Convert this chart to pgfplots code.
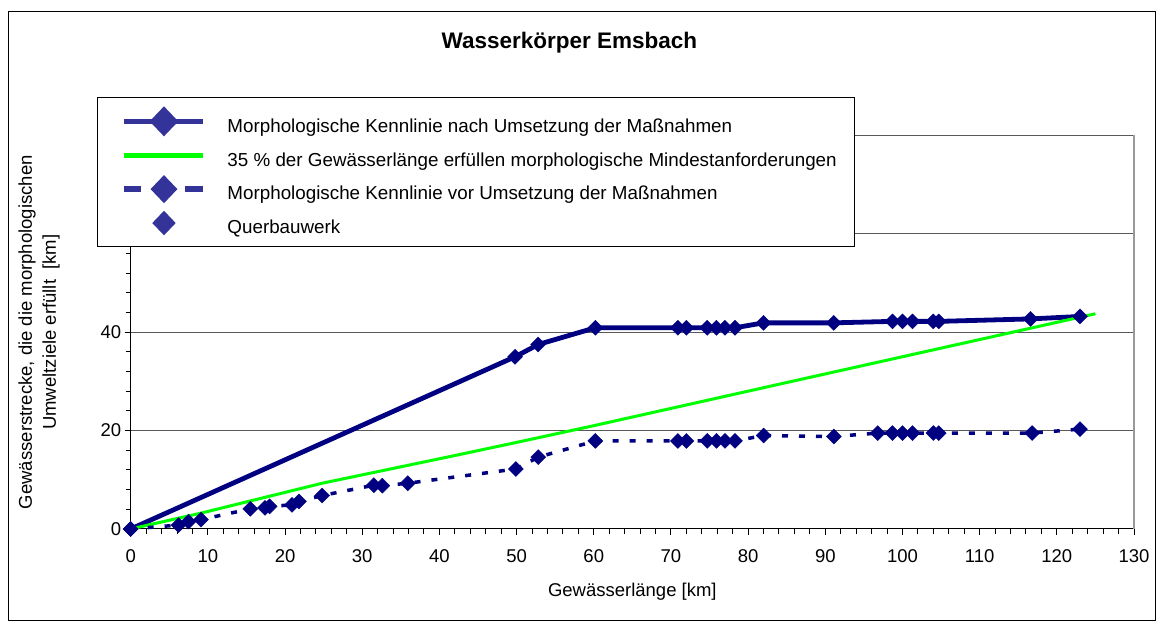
\documentclass[border=0pt]{standalone}
\usepackage{fontspec}
\setmainfont{Liberation Sans}
\usepackage{pgfplots}
\pgfplotsset{compat=1.18}
\definecolor{navy}{RGB}{0,0,128}
\definecolor{legnavy}{RGB}{51,51,153}
\definecolor{lgreen}{RGB}{0,255,0}
\newcommand{\legbox}{\pgfpathrectangle{\pgfpoint{-9pt}{-6pt}}{\pgfpoint{88pt}{12pt}}\pgfusepath{discard}}
\begin{document}
\begin{tikzpicture}[x=1pt,y=1pt]
\path[use as bounding box] (0,0) rectangle (1161,628);
\draw[black, line width=1pt] (8.5,7) rectangle (1155,616);
\node[font=\bfseries\fontsize{22.5}{26}\selectfont] at (569.4,585) {Wasserkörper Emsbach};
\begin{axis}[
  at={(130.7pt,99pt)}, anchor=south west,
  scale only axis, width=1003.3pt, height=393.6pt,
  xmin=0, xmax=130, ymin=0, ymax=80,
  clip=false,
  axis x line*=bottom, axis y line*=left,
  axis line style={black, line width=1pt},
  xtick={0,10,...,130}, ytick={0,20,...,80},
  minor x tick num=4, minor y tick num=4,
  tick align=outside,
  major tick length=6pt, minor tick length=5pt,
  every tick/.style={black, line width=1pt},
  ymajorgrids,
  major grid style={black!65, line width=1pt},
  extra x ticks={130}, extra x tick labels={},
  extra x tick style={grid=major, major grid style={black!40, line width=1.5pt}, major tick length=0pt},
  /pgf/number format/assume math mode=true,
  ticklabel style={font=\fontsize{18.5}{20}\selectfont},
  xticklabel style={yshift=-11pt},
  xlabel={Gewässerlänge [km]},
  xlabel style={font=\fontsize{18.5}{20}\selectfont, at={(axis description cs:0.5,-0.16)}, anchor=center},
  ylabel={Gewässerstrecke, die die morphologischen\\Umweltziele erfüllt~ [km]},
  ylabel style={font=\fontsize{18.5}{24}\selectfont, align=center, at={(axis description cs:-0.0705,0.5)}, anchor=south, inner sep=0pt},
  legend cell align=left,
  legend style={at={(-0.0336,1.0976)}, anchor=north west, draw=black, line width=1pt, fill=white,
    inner xsep=18pt, inner ysep=13pt, row sep=12.2pt, column sep=24pt,
    font=\fontsize{18.8}{20}\selectfont,
    nodes={inner sep=0pt, text height=21.7pt, text depth=0pt}},
]
\addplot[navy, line width=4.8pt, mark=square*, mark size=5.3pt,
  mark options={rotate=45, solid, fill=navy, draw=navy, line width=0.4pt},
  legend image code/.code={\legbox
    \pgfinterruptboundingbox
    \draw[legnavy, solid, line width=5.5pt] (0pt,0pt) -- (79pt,0pt);
    \fill[legnavy, solid] (39.5pt,11.5pt) -- (50.5pt,0pt) -- (39.5pt,-11.5pt) -- (28.5pt,0pt) -- cycle;
    \endpgfinterruptboundingbox}]
coordinates {
(0,0) (49.8,35.0) (52.8,37.5) (60.2,40.9) (70.9,40.9) (72.0,40.9) (74.7,40.9) (75.9,40.9) (77.0,40.9) (78.3,40.9) (82.0,41.9) (91.1,41.9) (98.7,42.2) (100.0,42.2) (101.3,42.2) (104.0,42.2) (104.7,42.2) (116.6,42.7) (123.0,43.2)
};
\addlegendentry{Morphologische Kennlinie nach Umsetzung der Maßnahmen}
\addplot[lgreen, line width=3pt, no marks,
  legend image code/.code={\legbox
    \pgfinterruptboundingbox
    \draw[lgreen, solid, line width=5pt] (0pt,0pt) -- (79pt,0pt);
    \endpgfinterruptboundingbox}]
coordinates {
(0,0) (9.3,3.3) (24.8,9.3) (41.6,14.8) (50,17.6) (60,21.0) (86.8,30.4) (125,43.75)
};
\addlegendentry{35 \% der Gewässerlänge erfüllen morphologische Mindestanforderungen}
\addplot[navy, line width=3.5pt, dash pattern=on 6pt off 11pt, mark=square*, mark size=5.3pt,
  mark options={rotate=45, solid, fill=navy, draw=navy, line width=0.4pt},
  legend image code/.code={\legbox
    \pgfinterruptboundingbox
    \draw[legnavy, solid, line width=5.5pt] (0pt,0pt) -- (17pt,0pt);
    \draw[legnavy, solid, line width=5.5pt] (61pt,0pt) -- (79pt,0pt);
    \fill[legnavy, solid] (39.5pt,11.5pt) -- (50.5pt,0pt) -- (39.5pt,-11.5pt) -- (28.5pt,0pt) -- cycle;
    \endpgfinterruptboundingbox}]
coordinates {
(0,0) (6.2,0.8) (7.5,1.5) (9.1,1.9) (15.5,4.1) (17.4,4.3) (18.0,4.6) (20.9,4.9) (21.8,5.6) (24.8,6.8) (31.5,8.9) (32.6,8.8) (35.9,9.3) (49.9,12.2) (52.8,14.6) (60.2,17.9) (70.9,17.9) (72.0,17.9) (74.7,17.9) (75.9,17.9) (77.0,17.9) (78.3,17.9) (82.0,19.0) (91.1,18.8) (96.8,19.5) (98.7,19.5) (100.0,19.5) (101.3,19.5) (104.0,19.5) (104.7,19.5) (116.8,19.5) (123.0,20.3)
};
\addlegendentry{Morphologische Kennlinie vor Umsetzung der Maßnahmen}
\addlegendimage{legend image code/.code={\legbox
    \pgfinterruptboundingbox
    \fill[legnavy, solid] (39.5pt,11.5pt) -- (50.5pt,0pt) -- (39.5pt,-11.5pt) -- (28.5pt,0pt) -- cycle;
    \endpgfinterruptboundingbox}}
\addlegendentry{Querbauwerk}
\end{axis}
\end{tikzpicture}
\end{document}
